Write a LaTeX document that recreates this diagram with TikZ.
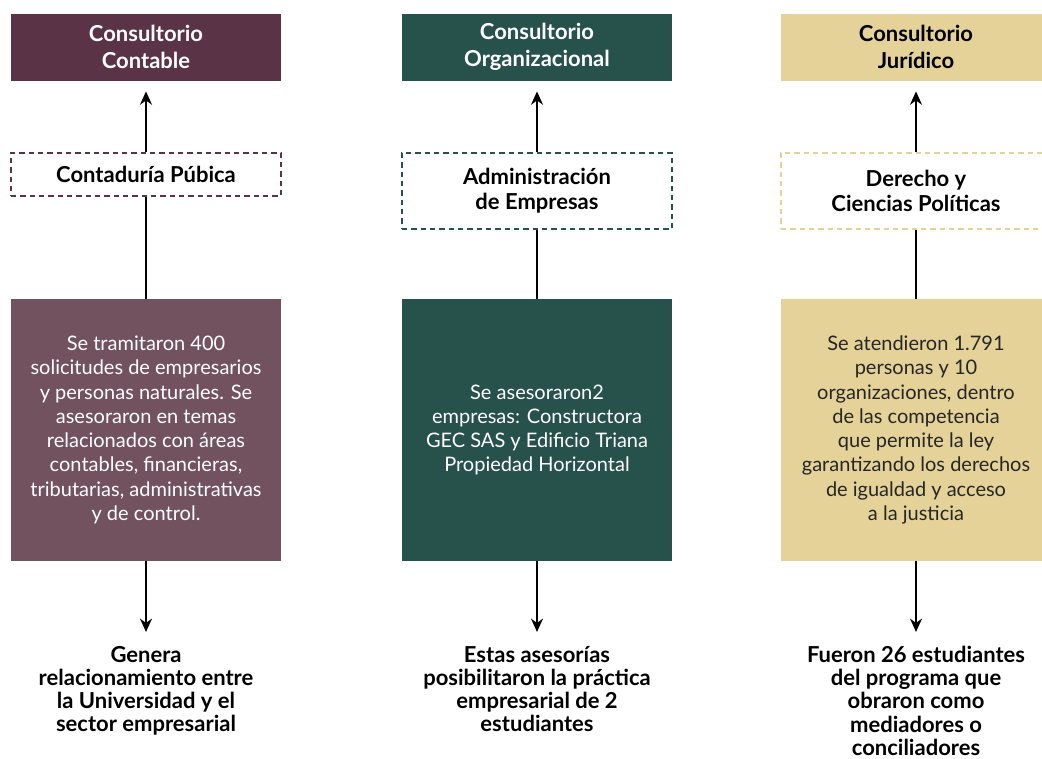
\documentclass[tikz,border=0pt]{standalone}
\usepackage{fontspec}
\setmainfont{Lato}
\usetikzlibrary{positioning,arrows.meta}

\definecolor{vino}{HTML}{5A3346}
\definecolor{vinoclaro}{HTML}{735260}
\definecolor{verde}{HTML}{27514B}
\definecolor{arena}{HTML}{E4D298}

\begin{document}
\begin{tikzpicture}[
    x=0.75pt, y=-0.75pt,
    node distance=54.75pt,
    >={Stealth[length=10pt,width=9pt]},
    link/.style={line width=1.4pt},
    head/.style={fill=#1, minimum width=202.5pt, minimum height=50.25pt, align=center,
        font=\bfseries\fontsize{16.5}{20.5}\selectfont, text=white},
    career/.style={draw=#1, dashed, dash pattern=on 4pt off 3pt, line width=1.1pt,
        minimum width=202.5pt, align=center, font=\bfseries\fontsize{16.5}{19}\selectfont},
    detail/.style={fill=#1, minimum width=202.5pt, minimum height=196.5pt, align=center,
        font=\fontsize{15}{18.2}\selectfont, text=white},
    result/.style={align=center, inner sep=0pt, font=\bfseries\fontsize{16.5}{17.4}\selectfont}
]
\useasboundingbox (0,0) rectangle (1042,758);

% encabezados
\node[head=vino] (contable) at (146,47) {Consultorio\\Contable};
\node[head=verde] (organizacional) at (537,47) {Consultorio\\Organizacional};
\node[head=arena, text=black] (juridico) at (916,47) {Consultorio\\Jurídico};

% programas
\node[career=vino, minimum height=32.25pt, below=53.6pt of contable] (contaduria) {Contaduría Púbica};
\node[career=verde, minimum height=57pt, below=53.6pt of organizacional] (administracion) {Administración\\de Empresas};
\node[career=arena, minimum height=57pt, below=53.6pt of juridico] (derecho) {Derecho y\\Ciencias Políticas};

% actividades
\node[detail=vinoclaro] (tramites) at (146,430) {Se tramitaron 400\\solicitudes de empresarios\\y personas naturales. Se\\asesoraron en temas\\relacionados con áreas\\contables, financieras,\\tributarias, administrativas\\y de control.};
\node[detail=verde] (asesorias) at (537,430) {Se asesoraron2\\empresas: Constructora\\GEC SAS y Edificio Triana\\Propiedad Horizontal};
\node[detail=arena, text=black!85] (atenciones) at (916,430) {Se atendieron 1.791\\personas y 10\\organizaciones, dentro\\de las competencia\\ que permite la ley\\garantizando los derechos\\de igualdad y acceso\\a la justicia};

% resultados
\node[result, below=63.5pt of tramites] (relacion) {Genera\\relacionamiento entre\\la Universidad y el\\sector empresarial};
\node[result, below=63.5pt of asesorias] (practica) {Estas asesorías\\posibilitaron la práctica\\empresarial de 2\\estudiantes};
\node[result, below=63.5pt of atenciones] (mediadores) {Fueron 26 estudiantes\\del programa que\\obraron como\\mediadores o\\conciliadores};

\foreach \prog/\cons/\act/\res in {contaduria/contable/tramites/relacion,
    administracion/organizacional/asesorias/practica,
    derecho/juridico/atenciones/mediadores}{
  \draw[link, ->, shorten >=8pt] (\prog) -- (\cons);
  \draw[link] (\act) -- (\prog);
  \draw[link, ->, shorten >=10.5pt] (\act) -- (\res);
}
\end{tikzpicture}
\end{document}
